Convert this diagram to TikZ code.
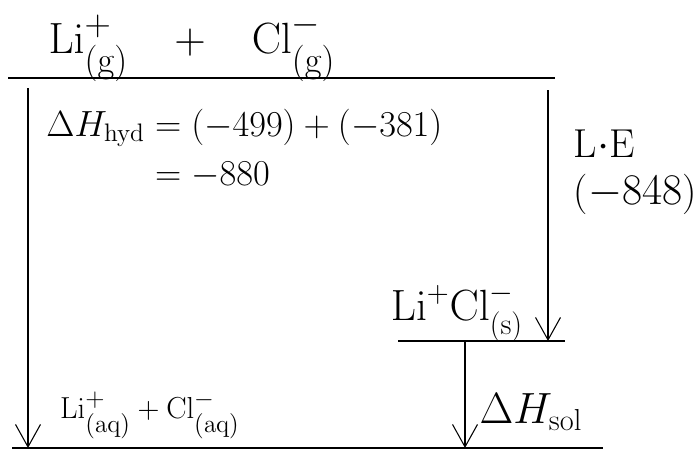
\documentclass[tikz,border=0pt]{standalone}
\usepackage{amsmath}
\usetikzlibrary{arrows.meta}

\begin{document}
\begin{tikzpicture}[x=1cm,y=1cm,line width=.6pt,font=\LARGE,
  level/.style={line width=1pt},
  change/.style={-{Straight Barb[length=4.5mm,width=5mm]}},
  big/.style={font=\fontsize{28}{32}\selectfont,inner sep=0pt},
  mid/.style={font=\fontsize{23}{27}\selectfont},
  small/.style={font=\fontsize{19}{23}\selectfont}]
\useasboundingbox (0,0) rectangle (13.96,9.34);
% energy levels
\coordinate (gasL) at (0.16,7.78); \coordinate (gasR) at (11.1,7.78);
\coordinate (solL) at (7.96,2.52); \coordinate (solR) at (11.3,2.52);
\coordinate (aqL) at (0.24,0.38); \coordinate (aqR) at (12.06,0.38);
\draw[level] (gasL)--(gasR) (solL)--(solR) (aqL)--(aqR);
% arrow starts
\coordinate (hyd) at (0.56,7.58);
\coordinate (lat) at (10.96,7.54);
\coordinate (dis) at (9.3,2.52);
\draw[change] (hyd)--(hyd |- aqL);
\draw[change] (lat)--(lat |- solL);
\draw[change] (dis)--(dis |- aqL);
% labels
\node[big] (gas) at (3.84,8.39) {$\mathrm{Li}^{+}_{(\mathrm{g})}\;\;\;+\;\;\;\mathrm{Cl}^{-}_{(\mathrm{g})}$};
\node[mid] (sol) at (9.14,3.08) {$\mathrm{Li}^{+}\mathrm{Cl}^{-}_{(\mathrm{s})}$};
\node[small] (aq) at (3.0,1.04) {$\mathrm{Li}^{+}_{(\mathrm{aq})}+\mathrm{Cl}^{-}_{(\mathrm{aq})}$};
\node[font=\fontsize{21}{25}\selectfont,anchor=west] (hydval) at (0.8,6.3) {$\begin{aligned}\Delta H_{\mathrm{hyd}}&=(-499)+(-381)\\&=-880\end{aligned}$};
\node[mid,anchor=west,align=left] (latval) at (11.35,5.9) {L$\cdot$E\\($-848$)};
\node[mid] (disval) at (10.62,1.1) {$\Delta H_{\mathrm{sol}}$};
\end{tikzpicture}
\end{document}
